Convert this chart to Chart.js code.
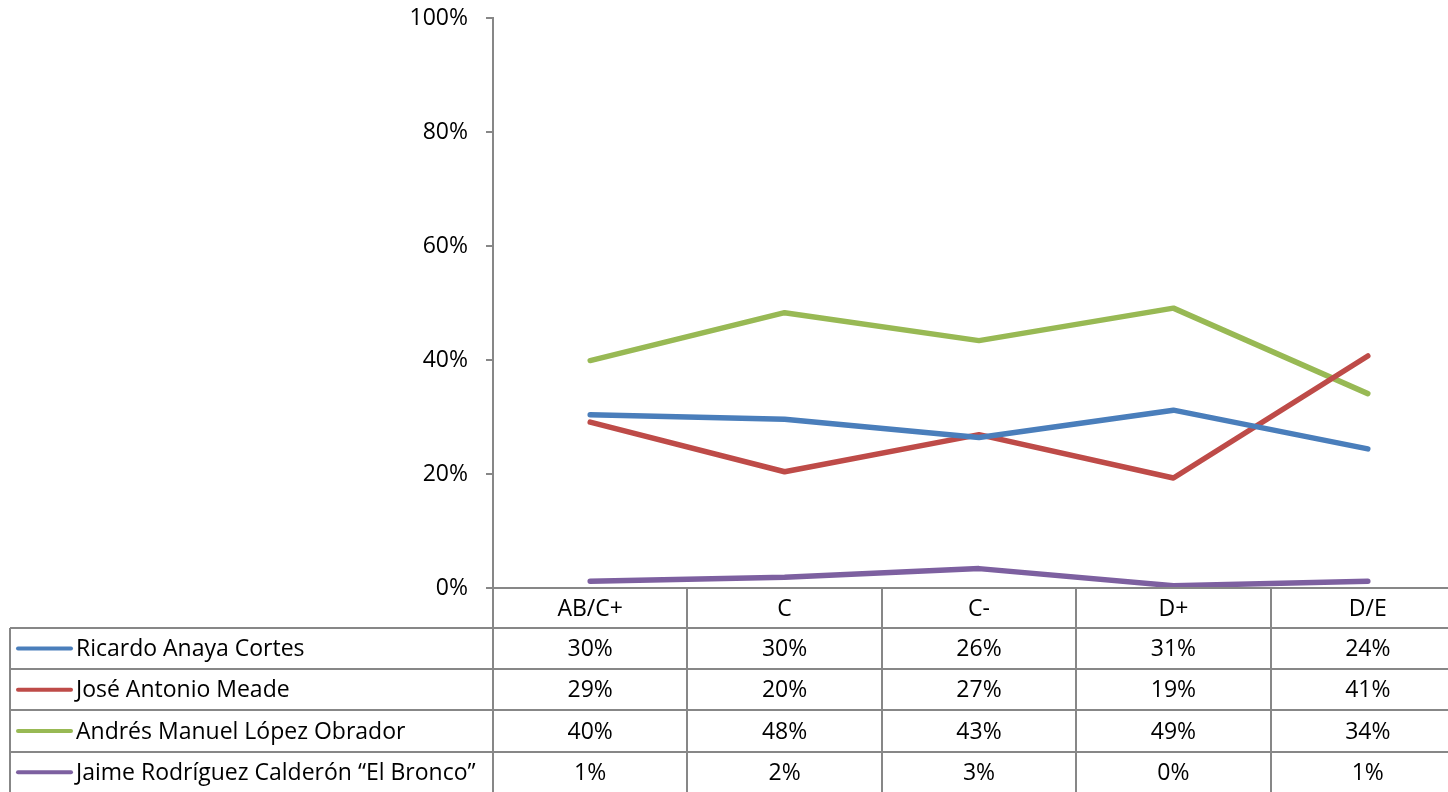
<!DOCTYPE html>
<html>
<head>
<meta charset="utf-8">
<script src="https://cdn.jsdelivr.net/npm/chart.js@4"></script>
<style>
    html, body { margin: 0; padding: 0; background: #fff; overflow: hidden; }
    #wrap { position: absolute; left: 0; top: 0; width: 1466px; height: 792px; }
</style>
</head>
<body>
<div id="wrap"><canvas id="chart" width="1466" height="792"></canvas></div>
<script>
// categorias (nivel socioeconomico)
const categories = ['AB/C+', 'C', 'C-', 'D+', 'D/E'];
const seriesNames = [
    'Ricardo Anaya Cortes',
    'José Antonio Meade',
    'Andrés Manuel López Obrador',
    'Jaime Rodríguez Calderón “El Bronco”'
];
const anaya = [30.4, 29.6, 26.4, 31.2, 24.4];
const meade = [29.1, 20.4, 26.9, 19.3, 40.7];
const amlo = [39.9, 48.3, 43.4, 49.1, 34.1];
const bronco = [1.2, 1.9, 3.4, 0.4, 1.2];
const yTicks = [0, 20, 40, 60, 80, 100];

const colors = ['#4A7EBB', '#BE4B48', '#98B954', '#7D60A0'];
const FAMILY = '"Open Sans", "Noto Sans", sans-serif';
const FSIZE = 23;
const FONT = FSIZE + 'px ' + FAMILY;
const GRID = '#878787';

// tabla de datos abajo del grafico (estilo Excel)
const dataTablePlugin = {
    id: 'dataTable',
    afterDraw(chart) {
        const ctx = chart.ctx;
        const xs = chart.scales.x;
        const area = chart.chartArea;
        const top = area.bottom;
        const headerH = 40;
        const rowH = 41.2;
        const tableLeft = 10;
        const colW = (area.right - area.left) / categories.length;
        const bottom = top + headerH + rowH * seriesNames.length + 2;

        ctx.save();
        ctx.strokeStyle = GRID;
        ctx.lineWidth = 2;

        // lineas horizontales
        ctx.beginPath();
        ctx.moveTo(area.left, top);
        ctx.lineTo(area.right, top);
        for (let r = 0; r < seriesNames.length; r++) {
            const y = Math.round(top + headerH + r * rowH);
            ctx.moveTo(tableLeft, y);
            ctx.lineTo(area.right, y);
        }
        // lineas verticales
        ctx.moveTo(tableLeft, top + headerH);
        ctx.lineTo(tableLeft, bottom);
        for (let i = 0; i <= categories.length; i++) {
            const x = Math.round(area.left + i * colW);
            ctx.moveTo(x, top);
            ctx.lineTo(x, bottom);
        }
        ctx.stroke();

        ctx.font = FONT;
        ctx.fillStyle = '#000';
        ctx.textAlign = 'center';
        ctx.textBaseline = 'middle';
        categories.forEach((c, i) => {
            ctx.fillText(c, xs.getPixelForValue(i), top + headerH / 2 + 1);
        });

        chart.data.datasets.forEach((ds, r) => {
            const yMid = top + headerH + r * rowH + rowH / 2 + 1;
            // clave de leyenda
            ctx.strokeStyle = ds.borderColor;
            ctx.lineWidth = 4;
            ctx.lineCap = 'round';
            ctx.beginPath();
            ctx.moveTo(18, yMid - 1);
            ctx.lineTo(71, yMid - 1);
            ctx.stroke();
            ctx.textAlign = 'left';
            ctx.fillText(ds.label, 76, yMid);
            ctx.textAlign = 'center';
            ds.data.forEach((v, i) => {
                ctx.fillText(Math.round(v) + '%', xs.getPixelForValue(i), yMid);
            });
        });
        ctx.restore();
    }
};

const seriesData = [anaya, meade, amlo, bronco];

new Chart(document.getElementById('chart').getContext('2d'), {
    type: 'line',
    data: {
        labels: categories,
        datasets: seriesNames.map((name, i) => ({
            label: name,
            data: seriesData[i],
            borderColor: colors[i],
            backgroundColor: colors[i],
            borderWidth: 5.5,
            borderCapStyle: 'round',
            borderJoinStyle: 'round',
            pointRadius: 0,
            tension: 0
        }))
    },
    options: {
        responsive: false,
        animation: false,
        layout: {
            padding: { top: 18, bottom: 204, left: 0, right: 1 }
        },
        plugins: {
            legend: { display: false },
            tooltip: { enabled: false }
        },
        scales: {
            x: {
                display: false,
                offset: true
            },
            y: {
                min: 0,
                max: 100,
                afterFit(scale) {
                    scale.width = 493;
                    scale.paddingTop = 0;
                    scale.paddingBottom = 0;
                },
                afterBuildTicks(scale) {
                    scale.ticks = yTicks.map(v => ({ value: v }));
                },
                border: { display: true, color: GRID, width: 2 },
                grid: {
                    drawOnChartArea: false,
                    drawTicks: true,
                    tickLength: 7,
                    color: GRID,
                    lineWidth: 2
                },
                ticks: {
                    padding: 18,
                    color: '#000',
                    font: { family: FAMILY, size: FSIZE },
                    callback: v => v + '%'
                }
            }
        }
    },
    plugins: [dataTablePlugin]
});
</script>
</body>
</html>
